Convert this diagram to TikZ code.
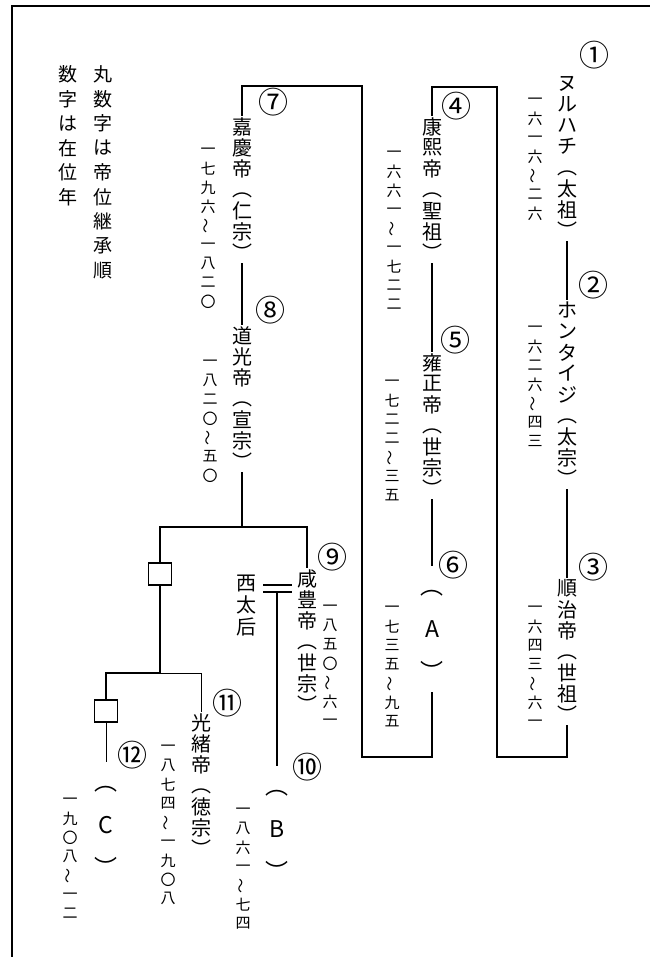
\documentclass[tikz,border=0pt]{standalone}
\usepackage{fontspec}
\usepackage{graphicx}
\setmainfont{Noto Sans CJK JP}

% vertical text: one character per cell
\ExplSyntaxOn
\cs_new:Npn \vt_cell:nn #1#2
 {
  \hbox_to_wd:nn {1em}
   {
    \hss
    \vbox_to_ht:nn {#1}
     {
      \vss
      \hbox:n { \vphantom{口} \str_case:nnF {#2} { {（}{︵} {）}{︶} {～}{\rotatebox[origin=c]{90}{～}} } {#2} }
      \vss
     }
    \hss
   }
 }
\NewDocumentCommand \vt { O{21pt} m }
 {
  \vbox:n { \offinterlineskip \tl_map_inline:nn {#2} { \vt_cell:nn {#1} {##1} } }
 }
\ExplSyntaxOff

\begin{document}
\begin{tikzpicture}[x=1pt,y=-1pt,
  emperor/.style={font=\fontsize{20}{22}\selectfont, inner sep=0pt, anchor=north},
  reign/.style={font=\fontsize{15}{17}\selectfont, inner sep=0pt, anchor=north},
  paren/.style={font=\fontsize{23}{25}\selectfont, inner sep=0pt, anchor=north},
  note/.style={font=\fontsize{19}{21}\selectfont, inner sep=0pt, anchor=north},
  cnum/.style={font=\fontsize{30}{32}\selectfont, inner sep=0pt},
  sqbox/.style={draw, line width=1.2pt, minimum width=23pt, minimum height=22pt, inner sep=0pt},
  tree/.style={line width=1.3pt},
  thin/.style={line width=0.6pt}]
\useasboundingbox (0,0) rectangle (650,957);
\draw[line width=1.2pt] (12,957) -- (12,6) -- (650,6);

% legend
\node[note] (lg1) at (103,62) {\vt[24.5pt]{丸数字は帝位継承順}};
\node[note] (lg2) at (68,62) {\vt[24.5pt]{数字は在位年}};

% first column
\node[cnum] (c1) at (594,55) {①};
\node[emperor] (n1) at (567,73) {\vt{ヌルハチ（太祖）}};
\node[reign] (d1) at (535,90) {\vt[19pt]{一六一六～二六}};
\node[cnum] (c2) at (593,285) {②};
\node[emperor] (n2) at (567,300) {\vt{ホンタイジ（太宗）}};
\node[reign] (d2) at (535,318) {\vt[19pt]{一六二六～四三}};
\node[cnum] (c3) at (593,567) {③};
\node[emperor] (n3) at (567,578) {\vt{順治帝（世祖）}};
\node[reign] (d3) at (535,598) {\vt[19pt]{一六四三～六一}};

% second column
\node[cnum] (c4) at (456,106) {④};
\node[emperor] (n4) at (432,116) {\vt{康熙帝（聖祖）}};
\node[reign] (d4) at (394,143) {\vt[19pt]{一六六一～一七二二}};
\node[cnum] (c5) at (455,340) {⑤};
\node[emperor] (n5) at (432,352) {\vt{雍正帝（世宗）}};
\node[reign] (d5) at (392,372) {\vt[19pt]{一七二二～三五}};
\node[cnum] (c6) at (453,565) {⑥};
\node[paren] (nA) at (432,566) {\vt[42pt]{（A）}};
\node[reign] (d6) at (392,598) {\vt[19pt]{一七三五～九五}};

% third column
\node[cnum] (c7) at (273,102) {⑦};
\node[emperor] (n7) at (242,116) {\vt{嘉慶帝（仁宗）}};
\node[reign] (d7) at (208,140) {\vt[19pt]{一七九六～一八二〇}};
\node[cnum] (c8) at (270,310) {⑧};
\node[emperor] (n8) at (242,325) {\vt{道光帝（宣宗）}};
\node[reign] (d8) at (210,352) {\vt[19pt]{一八二〇～五〇}};

% Xianfeng and Cixi
\node[cnum] (c9) at (332,557) {⑨};
\node[emperor] (n9) at (307,568) {\vt{咸豊帝（世宗）}};
\node[reign] (d9) at (330,597) {\vt[19pt]{一八五〇～六一}};
\node[emperor] (xi) at (246,572) {\vt[22pt]{西太后}};
\node[cnum] (c10) at (307,767) {⑩};
\node[paren] (nB) at (277,766) {\vt[42pt]{（B）}};
\node[reign] (d10) at (243,800) {\vt[19pt]{一八六一～七四}};

% side branch
\node[sqbox] (sq1) at (160,574) {};
\node[sqbox] (sq2) at (106,711) {};
\node[cnum] (c11) at (227,703) {⑪};
\node[emperor] (n11) at (201,712) {\vt{光緒帝（徳宗）}};
\node[reign] (d11) at (168,737) {\vt[19pt]{一八七四～一九〇八}};
\node[cnum] (c12) at (132,755) {⑫};
\node[paren] (nC) at (106,762) {\vt[42pt]{（C）}};
\node[reign] (d12) at (70,790) {\vt[19pt]{一九〇八～一二}};

% corners
\coordinate (b1top) at (497,87);
\coordinate (b1bot) at (497,757);
\coordinate (b2top) at (362,86);
\coordinate (b2bot) at (362,757);
\coordinate (j1) at (160,527);
\coordinate (j2) at (307,527);
\coordinate (j4) at (106,673);
\coordinate (j5) at (201,673);
\coordinate (wl) at (263,585);
\coordinate (wr) at (292,585);
\coordinate (wed) at (277,592);

% lines
\draw[tree] (n1) -- (n2);
\draw[tree] (n2) -- (n3);
\draw[tree] (n3.south) -- (n3.south |- b1bot) -- (b1bot) -- (b1top) -- (b1top -| n4.north) -- (n4.north);
\draw[tree] (n4) -- (n5);
\draw[tree] (n5) -- (nA);
\draw[tree] (nA.south) -- (nA.south |- b2bot) -- (b2bot) -- (b2top) -- (b2top -| n7.north) -- (n7.north);
\draw[tree] (n7) -- (n8);
\draw[tree] (n8.south) -- (n8.south |- j1);
\draw[tree] (sq1.north) -- (j1) -- (j2) -- (n9.north);
\draw[tree] (wl) -- (wr);
\draw[tree] ([yshift=-7pt]wl) -- ([yshift=-7pt]wr);
\draw[tree] (wed) -- (nB.north);
\draw[tree] (sq1.south) -- (sq1.south |- j4);
\draw[tree] (sq2.north) -- (j4) -- (sq1.south |- j4);
\draw[thin] (sq1.south |- j4) -- (j5) -- (n11.north);
\draw[thin] (sq2.south) -- (nC.north);
\end{tikzpicture}
\end{document}
